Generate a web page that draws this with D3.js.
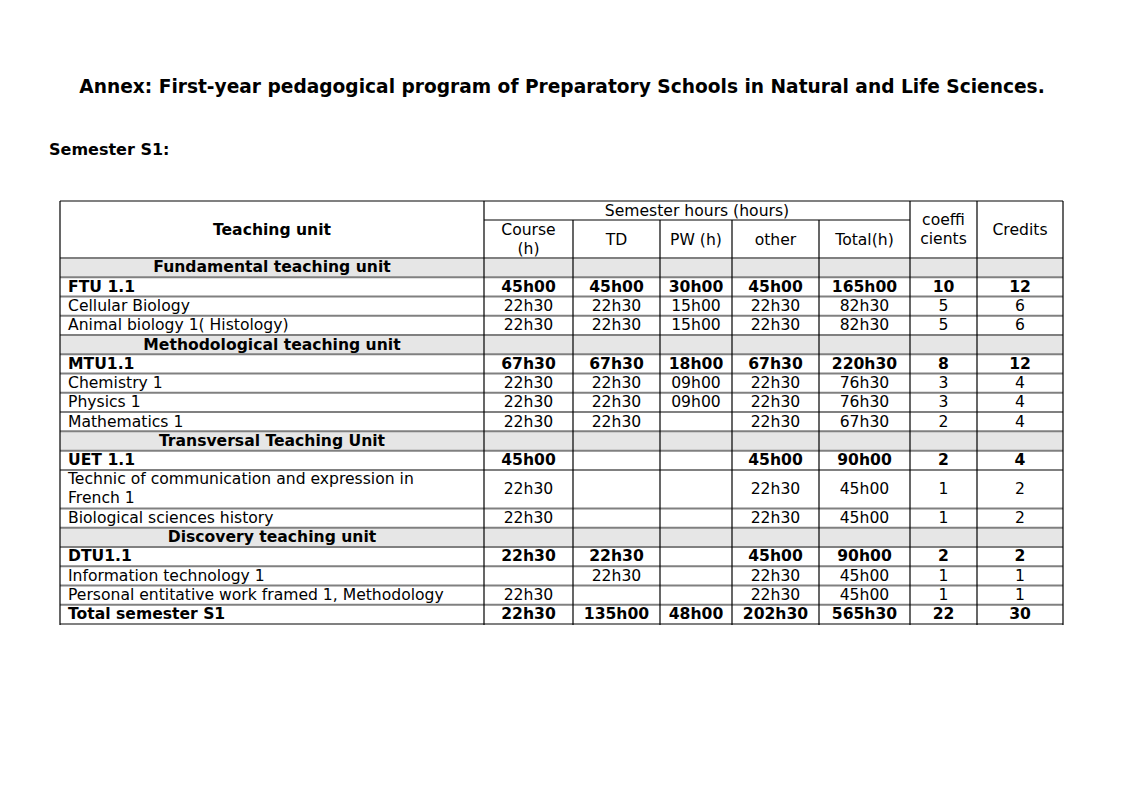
<!DOCTYPE html>
<html>
<head>
<meta charset="utf-8">
<script src="https://cdn.jsdelivr.net/npm/d3@7"></script>
<style>
  body { margin: 0; background: #fff; }
  svg text { font-family: "DejaVu Sans", sans-serif; fill: #000; }
</style>
</head>
<body>
<div class="table"></div>
<script>
// table content
var title = "Annex: First-year pedagogical program of Preparatory Schools in Natural and Life Sciences.";
var subtitle = "Semester S1:";
var hoursHeader = "Semester hours (hours)";
var colHeaders = [["Teaching unit"], ["Course", "(h)"], ["TD"], ["PW (h)"], ["other"], ["Total(h)"], ["coeffi", "cients"], ["Credits"]];

var labels = ["Fundamental teaching unit", "FTU 1.1", "Cellular Biology", "Animal biology 1( Histology)",
  "Methodological teaching unit", "MTU1.1", "Chemistry 1", "Physics 1", "Mathematics 1",
  "Transversal Teaching Unit", "UET 1.1", "Technic of communication and expression in|French 1", "Biological sciences history",
  "Discovery teaching unit", "DTU1.1", "Information technology 1", "Personal entitative work framed 1, Methodology",
  "Total semester S1"];
// g = grey section header, b = bold subtotal, n = normal
var kinds = ["g", "b", "n", "n", "g", "b", "n", "n", "n", "g", "b", "n", "n", "g", "b", "n", "n", "b"];

var course  = ["", "45h00", "22h30", "22h30", "", "67h30", "22h30", "22h30", "22h30", "", "45h00", "22h30", "22h30", "", "22h30", "", "22h30", "22h30"];
var td      = ["", "45h00", "22h30", "22h30", "", "67h30", "22h30", "22h30", "22h30", "", "", "", "", "", "22h30", "22h30", "", "135h00"];
var pw      = ["", "30h00", "15h00", "15h00", "", "18h00", "09h00", "09h00", "", "", "", "", "", "", "", "", "", "48h00"];
var other   = ["", "45h00", "22h30", "22h30", "", "67h30", "22h30", "22h30", "22h30", "", "45h00", "22h30", "22h30", "", "45h00", "22h30", "22h30", "202h30"];
var total   = ["", "165h00", "82h30", "82h30", "", "220h30", "76h30", "76h30", "67h30", "", "90h00", "45h00", "45h00", "", "90h00", "45h00", "45h00", "565h30"];
var coeff   = ["", "10", "5", "5", "", "8", "3", "3", "2", "", "2", "1", "1", "", "2", "1", "1", "22"];
var credits = ["", "12", "6", "6", "", "12", "4", "4", "4", "", "4", "2", "2", "", "2", "1", "1", "30"];

var columns = [course, td, pw, other, total, coeff, credits];

var W = 1124, H = 795;
var svg = d3.select(".table").append("svg")
  .attr("width", W)
  .attr("height", H);

svg.append("text")
  .attr("x", 562).attr("y", 93)
  .attr("text-anchor", "middle")
  .attr("font-weight", "bold")
  .attr("font-size", 18.6)
  .text(title);

svg.append("text")
  .attr("x", 49).attr("y", 155)
  .attr("font-weight", "bold")
  .attr("font-size", 16)
  .text(subtitle);

var edges = [60, 484, 573, 660, 732, 819, 910, 977, 1063];
var tTop = 201, hdrMid = 220, hdrBot = 258, tBottom = 624;
var fs = 15.6;

// row heights: two-line labels take two units
var units = labels.map(function(l) { return l.indexOf("|") >= 0 ? 2 : 1; });
var cum = [0];
units.forEach(function(u, i) { cum.push(cum[i] + u); });
var y = d3.scaleLinear().domain([0, d3.sum(units)]).range([hdrBot, tBottom]);

var rows = labels.map(function(l, i) {
  return { label: l, kind: kinds[i], y0: y(cum[i]), y1: y(cum[i + 1]),
    vals: columns.map(function(c) { return c[i]; }) };
});

// grey section rows
svg.selectAll("rect.grey")
  .data(rows.filter(function(d) { return d.kind == "g"; }))
  .enter().append("rect")
  .attr("class", "grey")
  .attr("x", edges[0]).attr("y", function(d) { return d.y0; })
  .attr("width", edges[8] - edges[0])
  .attr("height", function(d) { return d.y1 - d.y0; })
  .attr("fill", "#e6e6e6");

// horizontal lines (grey)
var hLines = [tTop, hdrBot].concat(rows.map(function(d) { return d.y1; }));
svg.selectAll("line.h")
  .data(hLines)
  .enter().append("line")
  .attr("x1", edges[0]).attr("x2", edges[8])
  .attr("y1", function(d) { return d; }).attr("y2", function(d) { return d; })
  .attr("stroke", "#808080").attr("stroke-width", 2);
svg.append("line")
  .attr("x1", edges[1]).attr("x2", edges[6])
  .attr("y1", hdrMid).attr("y2", hdrMid)
  .attr("stroke", "#808080").attr("stroke-width", 2);

// vertical lines (black)
svg.selectAll("line.v")
  .data(edges)
  .enter().append("line")
  .attr("x1", function(d) { return d; }).attr("x2", function(d) { return d; })
  .attr("y1", function(d, i) { return (i >= 2 && i <= 5) ? hdrMid : tTop; })
  .attr("y2", tBottom + 1)
  .attr("stroke", "#000").attr("stroke-width", 1.2);

function cx(i) { return (edges[i] + edges[i + 1]) / 2; }

// header texts
function multiline(x, yc, lines, bold) {
  var lh = 19;
  var t = svg.append("text")
    .attr("text-anchor", "middle")
    .attr("font-size", fs)
    .attr("font-weight", bold ? "bold" : "normal");
  lines.forEach(function(s, k) {
    t.append("tspan")
      .attr("x", x)
      .attr("y", yc + (k - (lines.length - 1) / 2) * lh + fs * 0.36)
      .text(s);
  });
}
multiline(cx(0), (tTop + hdrBot) / 2, colHeaders[0], true);
multiline((edges[1] + edges[6]) / 2, (tTop + hdrMid) / 2, [hoursHeader], false);
for (var c = 1; c <= 5; c++) {
  multiline(cx(c), (hdrMid + hdrBot) / 2, colHeaders[c], false);
}
multiline(cx(6), (tTop + hdrBot) / 2 - 1, colHeaders[6], false);
multiline(cx(7), (tTop + hdrBot) / 2, colHeaders[7], false);

// body
var rowG = svg.selectAll("g.row")
  .data(rows)
  .enter().append("g")
  .attr("class", "row");

rowG.each(function(d) {
  var g = d3.select(this);
  var lines = d.label.split("|");
  var mid = (d.y0 + d.y1) / 2 - 0.8;
  var t = g.append("text")
    .attr("font-size", fs)
    .attr("font-weight", d.kind == "n" ? "normal" : "bold")
    .attr("text-anchor", d.kind == "g" ? "middle" : "start");
  lines.forEach(function(s, k) {
    t.append("tspan")
      .attr("x", d.kind == "g" ? cx(0) : edges[0] + 8)
      .attr("y", mid + (k - (lines.length - 1) / 2) * 19 + fs * 0.36)
      .text(s);
  });
  g.selectAll("text.val")
    .data(d.vals)
    .enter().append("text")
    .attr("class", "val")
    .attr("x", function(v, i) { return cx(i + 1); })
    .attr("y", mid + fs * 0.36)
    .attr("text-anchor", "middle")
    .attr("font-size", fs)
    .attr("font-weight", d.kind == "b" ? "bold" : "normal")
    .text(function(v) { return v; });
});
</script>
</body>
</html>
